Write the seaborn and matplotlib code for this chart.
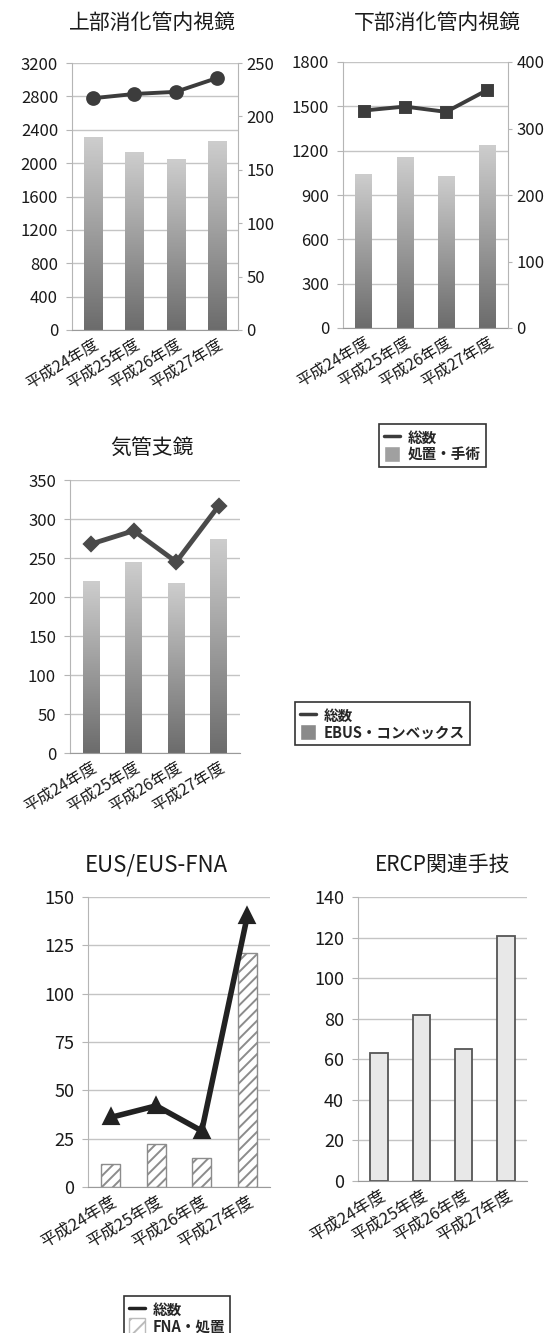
import numpy as np
import matplotlib
matplotlib.use('Agg')
import matplotlib.pyplot as plt
import seaborn as sns
from matplotlib.colors import LinearSegmentedColormap
from matplotlib.lines import Line2D
from matplotlib.patches import Patch

# data
years = ['平成24年度', '平成25年度', '平成26年度', '平成27年度']

upper_proc = [2310, 2130, 2040, 2260]      # 処置・手術 (left axis)
upper_total = [217, 221, 223, 236]         # 総数 (right axis)

lower_proc = [1040, 1155, 1025, 1235]
lower_total = [327, 333, 325, 358]

bronch_ebus = [220, 244, 217, 274]
bronch_total = [268, 285, 245, 317]

eus_fna = [12, 22, 15, 121]
eus_total = [36, 42, 29, 140]

ercp = [63, 82, 65, 121]

sns.set_style('white')
plt.rcParams['font.family'] = ['Noto Sans CJK JP', 'DejaVu Sans']
plt.rcParams['hatch.linewidth'] = 1.4

GRID = '#c4c4c4'
LINE = '#3c3c3c'
TXT = '#1a1a1a'


def gradient_fill(ax, top='#cdcdcd', bottom='#6c6c6c'):
    cmap = LinearSegmentedColormap.from_list('bar', [bottom, top])
    grad = np.linspace(0, 1, 200).reshape(-1, 1)
    for bar in list(ax.patches):
        x0, y0 = bar.get_x(), bar.get_y()
        w, h = bar.get_width(), bar.get_height()
        ax.imshow(grad, extent=(x0, x0 + w, y0, y0 + h), origin='lower',
                  aspect='auto', cmap=cmap, zorder=2, interpolation='bilinear')
        bar.set_facecolor('none')
        bar.set_edgecolor('none')


def style_axes(ax, ymax, step, fs=12, xfs=11.5):
    ax.set_xlim(-0.5, 3.5)
    ax.set_ylim(0, ymax)
    ax.set_yticks(np.arange(0, ymax + 1, step))
    ax.yaxis.grid(True, color=GRID, lw=1)
    ax.set_axisbelow(True)
    for s in ['top', 'right']:
        ax.spines[s].set_visible(False)
    ax.spines['left'].set_color('#b5b5b5')
    ax.spines['bottom'].set_color('#9a9a9a')
    ax.tick_params(axis='y', left=True, length=4, color='#b5b5b5', pad=6,
                   labelsize=fs, labelcolor=TXT)
    ax.set_xticks(range(4))
    ax.set_xticklabels(years, rotation=31, ha='right', va='top',
                       rotation_mode='anchor', fontsize=xfs, color=TXT)
    ax.tick_params(axis='x', length=0, pad=4)
    ax.set_xlabel('')
    ax.set_ylabel('')


def style_right(ax2, ymax, step):
    ax2.set_ylim(0, ymax)
    ax2.set_yticks(np.arange(0, ymax + 1, step))
    for s in ['top', 'left', 'bottom']:
        ax2.spines[s].set_visible(False)
    ax2.spines['right'].set_color('#b5b5b5')
    ax2.tick_params(axis='y', right=True, length=3, color='#b5b5b5', pad=3,
                    labelsize=12, labelcolor=TXT)
    ax2.set_ylabel('')


def legend_box(fig, handles, labels, anchor, loc='upper left', fs=10.5):
    leg = fig.legend(handles, labels, loc=loc, bbox_to_anchor=anchor,
                     frameon=True, fancybox=False, framealpha=1,
                     edgecolor='#333333', handlelength=1.1, handleheight=1.3,
                     handletextpad=0.5, borderpad=0.35, labelspacing=0.05,
                     prop={'size': fs, 'weight': 'bold'})
    leg.get_frame().set_linewidth(1.2)
    return leg


def title(x, y, text, fs=15):
    fig.text(x / W, 1 - y / H, text, ha='center', va='center',
             fontsize=fs, color=TXT)


fig = plt.figure(figsize=(5.6, 13.33), dpi=100)
W, H = 560, 1333


def axes_px(x0, x1, y0, y1):
    return fig.add_axes([x0 / W, 1 - y1 / H, (x1 - x0) / W, (y1 - y0) / H])


# --- 上部消化管内視鏡 ---
ax = axes_px(72, 238, 63, 330)
sns.barplot(x=years, y=upper_proc, ax=ax, width=0.44, color='#999999')
ax2 = ax.twinx()
sns.pointplot(x=years, y=upper_total, ax=ax2, color=LINE, markers='o',
              markersize=8.5, linewidth=2.8, errorbar=None)
gradient_fill(ax)
style_axes(ax, 3200, 400)
style_right(ax2, 250, 50)
ax.set_xlim(-0.5, 3.5)
title(152, 23, '上部消化管内視鏡')

# --- 下部消化管内視鏡 ---
ax = axes_px(343, 508, 62, 328)
sns.barplot(x=years, y=lower_proc, ax=ax, width=0.4, color='#999999')
ax2 = ax.twinx()
sns.pointplot(x=years, y=lower_total, ax=ax2, color=LINE, markers='s',
              markersize=7.5, linewidth=2.8, errorbar=None)
gradient_fill(ax)
style_axes(ax, 1800, 300)
style_right(ax2, 400, 100)
ax.set_xlim(-0.5, 3.5)
title(437, 23, '下部消化管内視鏡')
legend_box(fig,
           [Line2D([0], [0], color=LINE, lw=2.5), Patch(facecolor='#a0a0a0')],
           ['総数', '処置・手術'], (372 / W, 1 - 417 / H))

# --- 気管支鏡 ---
ax = axes_px(70, 240, 480, 753)
sns.barplot(x=years, y=bronch_ebus, ax=ax, width=0.4, color='#999999')
sns.pointplot(x=years, y=bronch_total, ax=ax, color='#4a4a4a', markers='D',
              markersize=6, linewidth=3.5, errorbar=None)
gradient_fill(ax)
for ln in ax.lines:
    ln.set_zorder(5)
style_axes(ax, 350, 50)
title(152, 448, '気管支鏡')
legend_box(fig,
           [Line2D([0], [0], color=LINE, lw=2.5), Patch(facecolor='#8a8a8a')],
           ['総数', 'EBUS・コンベックス'], (288 / W, 1 - 695 / H))

# --- EUS/EUS-FNA ---
ax = axes_px(88, 270, 897, 1187)
sns.barplot(x=years, y=eus_fna, ax=ax, width=0.42, color='white',
            edgecolor='#8c8c8c', linewidth=1, hatch='///')
sns.pointplot(x=years, y=eus_total, ax=ax, color='#222222', markers='^',
              markersize=9, linewidth=4, errorbar=None)
for ln in ax.lines:
    ln.set_zorder(5)
style_axes(ax, 150, 25, fs=13, xfs=12)
title(156, 865, 'EUS/EUS-FNA', fs=16)
legend_box(fig,
           [Line2D([0], [0], color='#222222', lw=2.5),
            Patch(facecolor='white', edgecolor='#bbbbbb', hatch='//')],
           ['総数', 'FNA・処置'], (117 / W, 1 - 1289 / H))

# --- ERCP関連手技 ---
ax = axes_px(358, 527, 897, 1181)
sns.barplot(x=years, y=ercp, ax=ax, width=0.42, color='#e8e8e8',
            edgecolor='#555555', linewidth=1.3)
style_axes(ax, 140, 20, fs=13, xfs=12)
title(443, 865, 'ERCP関連手技')

fig.savefig('out.png', dpi=100)
